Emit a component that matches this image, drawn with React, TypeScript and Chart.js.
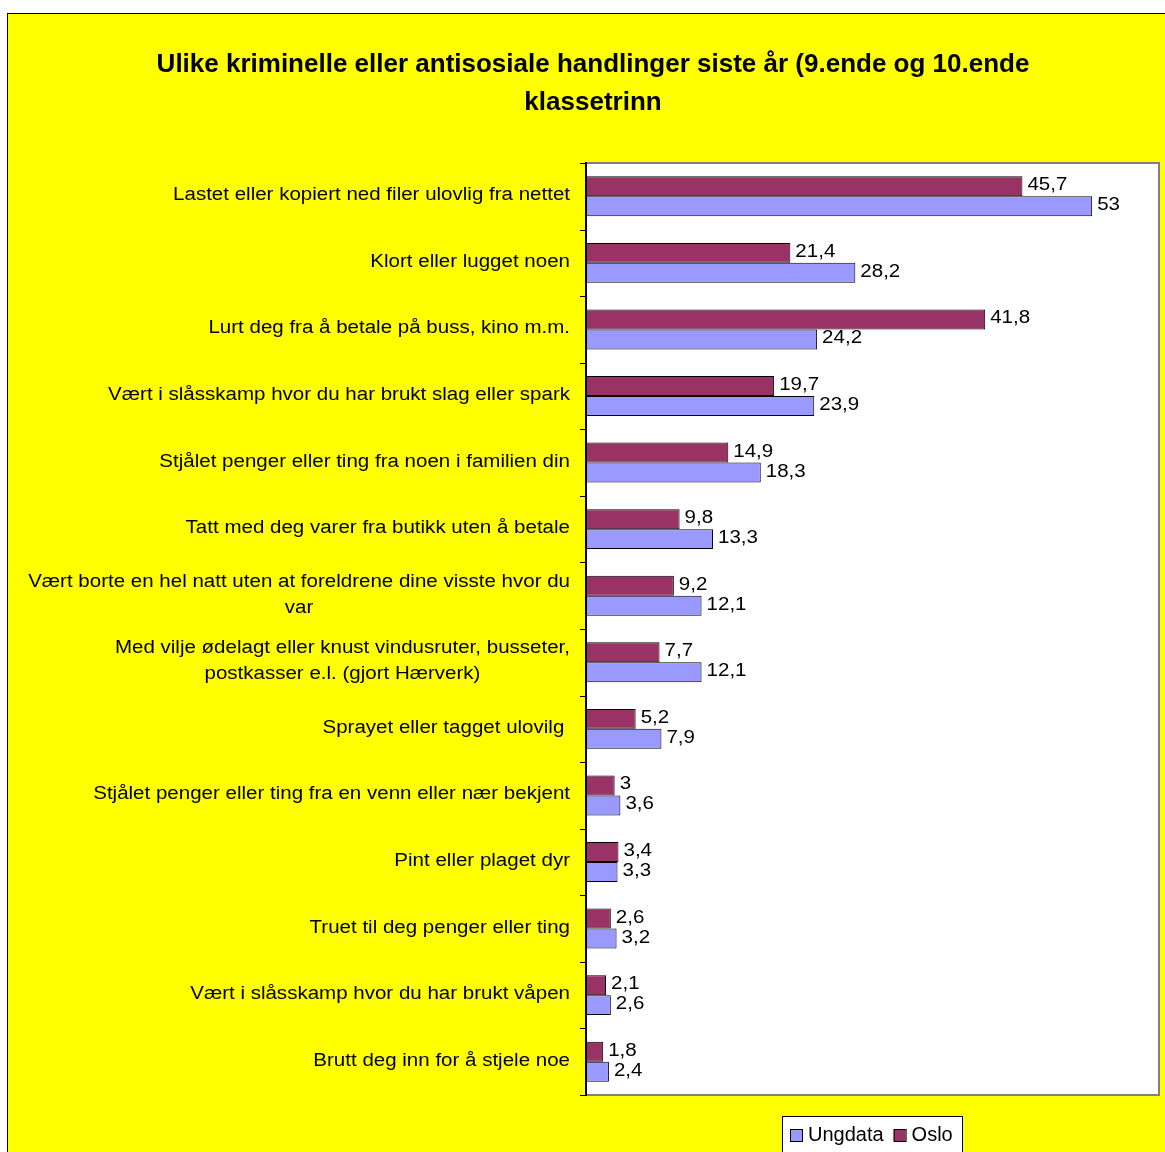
import React, { useEffect, useRef } from "react";
import { Chart, registerables } from "chart.js";

Chart.register(...registerables);

const titleLines: string[] = [
  "Ulike kriminelle eller antisosiale handlinger siste år (9.ende og 10.ende",
  "klassetrinn",
];

const categories: string[][] = [
  ["Lastet eller kopiert ned filer ulovlig fra nettet"],
  ["Klort eller lugget noen"],
  ["Lurt deg fra å betale på buss, kino m.m."],
  ["Vært i slåsskamp hvor du har brukt slag eller spark"],
  ["Stjålet penger eller ting fra noen i familien din"],
  ["Tatt med deg varer fra butikk uten å betale"],
  ["Vært borte en hel natt uten at foreldrene dine visste hvor du", "var"],
  ["Med vilje ødelagt eller knust vindusruter, busseter,", "postkasser e.l. (gjort Hærverk)"],
  ["Sprayet eller tagget ulovilg "],
  ["Stjålet penger eller ting fra en venn eller nær bekjent"],
  ["Pint eller plaget dyr"],
  ["Truet til deg penger eller ting"],
  ["Vært i slåsskamp hvor du har brukt våpen"],
  ["Brutt deg inn for å stjele noe"],
];

const osloValues: number[] = [45.7, 21.4, 41.8, 19.7, 14.9, 9.8, 9.2, 7.7, 5.2, 3, 3.4, 2.6, 2.1, 1.8];
const ungdataValues: number[] = [53, 28.2, 24.2, 23.9, 18.3, 13.3, 12.1, 12.1, 7.9, 3.6, 3.3, 3.2, 2.6, 2.4];

const seriesNames: string[] = ["Oslo", "Ungdata"];
const legendOrder: string[] = ["Ungdata", "Oslo"];
const xMin = 0;
const xMax = 60;

const OSLO_COLOR = "#993366";
const UNG_COLOR = "#9999FF";
const FONT = "'Liberation Sans', Arial, sans-serif";
const TEXT_SX = 1.14;

function drawText(ctx: CanvasRenderingContext2D, text: string, x: number, y: number, align: CanvasTextAlign, sx: number) {
  ctx.save();
  ctx.translate(x, y);
  ctx.scale(sx, 1);
  ctx.textAlign = align;
  ctx.fillText(text, 0, 0);
  ctx.restore();
}

const decor = {
  id: "decor",
  beforeDraw(chart: any) {
    const ctx: CanvasRenderingContext2D = chart.ctx;
    const w = chart.width;
    const h = chart.height;
    const ca = chart.chartArea;
    ctx.save();
    ctx.fillStyle = "#ffffff";
    ctx.fillRect(0, 0, w, h);
    ctx.fillStyle = "#FFFF00";
    ctx.fillRect(7, 13, w + 20, h + 20);
    ctx.strokeStyle = "#000000";
    ctx.lineWidth = 1;
    ctx.strokeRect(7.5, 13.5, w + 20, h + 20);
    ctx.fillStyle = "#ffffff";
    ctx.fillRect(ca.left, ca.top, ca.right - ca.left, ca.bottom - ca.top);
    // title
    ctx.fillStyle = "#000000";
    ctx.font = `bold 26px ${FONT}`;
    ctx.textBaseline = "alphabetic";
    titleLines.forEach((line, i) => {
      drawText(ctx, line, 593, 72 + i * 38, "center", 1);
    });
    ctx.restore();
  },
  afterDatasetsDraw(chart: any) {
    const ctx: CanvasRenderingContext2D = chart.ctx;
    const ca = chart.chartArea;
    const yScale = chart.scales.y;
    const n = categories.length;
    ctx.save();
    // plot border
    ctx.strokeStyle = "#808080";
    ctx.lineWidth = 2;
    ctx.strokeRect(ca.left, ca.top, ca.right - ca.left, ca.bottom - ca.top);
    // y axis line
    ctx.strokeStyle = "#000000";
    ctx.lineWidth = 2;
    ctx.beginPath();
    ctx.moveTo(ca.left, ca.top - 1);
    ctx.lineTo(ca.left, ca.bottom + 1);
    ctx.stroke();
    // ticks at category boundaries
    ctx.lineWidth = 1;
    for (let i = 0; i <= n; i++) {
      const y = Math.round(ca.top + (i * (ca.bottom - ca.top)) / n) + 0.5;
      ctx.beginPath();
      ctx.moveTo(ca.left - 6, y);
      ctx.lineTo(ca.left, y);
      ctx.stroke();
    }
    // category labels
    ctx.fillStyle = "#000000";
    ctx.font = `18px ${FONT}`;
    ctx.textBaseline = "middle";
    const labelRight = ca.left - 16;
    const lineH = 26;
    categories.forEach((lines, i) => {
      const cy = yScale.getPixelForValue(i);
      const maxW = Math.max(...lines.map((l) => ctx.measureText(l).width)) * TEXT_SX;
      const cx = labelRight - maxW / 2;
      lines.forEach((line, j) => {
        const y = cy + (j - (lines.length - 1) / 2) * lineH - 1;
        if (lines.length === 1) {
          drawText(ctx, line, labelRight, y, "right", TEXT_SX);
        } else {
          drawText(ctx, line, cx, y, "center", TEXT_SX);
        }
      });
    });
    // data labels
    chart.data.datasets.forEach((ds: any, di: number) => {
      const meta = chart.getDatasetMeta(di);
      meta.data.forEach((bar: any, i: number) => {
        const v = ds.data[i];
        const txt = String(v).replace(".", ",");
        drawText(ctx, txt, bar.x + 5, bar.y - 1, "left", TEXT_SX);
      });
    });
    // legend
    const lx = 782;
    const ly = 1116;
    ctx.fillStyle = "#ffffff";
    ctx.fillRect(lx, ly, 180, 60);
    ctx.strokeStyle = "#000000";
    ctx.lineWidth = 1;
    ctx.strokeRect(lx + 0.5, ly + 0.5, 180, 60);
    ctx.font = `20px ${FONT}`;
    ctx.textBaseline = "alphabetic";
    let x = lx + 8;
    legendOrder.forEach((name) => {
      const color = name === "Oslo" ? OSLO_COLOR : UNG_COLOR;
      ctx.fillStyle = color;
      ctx.fillRect(x, 1129, 12, 12);
      ctx.strokeStyle = "#000000";
      ctx.strokeRect(x + 0.5, 1129.5, 12, 12);
      ctx.fillStyle = "#000000";
      ctx.textAlign = "left";
      ctx.fillText(name, x + 18, 1141);
      x += 18 + ctx.measureText(name).width + 10;
    });
    ctx.restore();
  },
};

export default function App() {
  const ref = useRef<HTMLCanvasElement | null>(null);
  useEffect(() => {
    if (!ref.current) return;
    const chart = new Chart(ref.current, {
      type: "bar",
      data: {
        labels: categories.map((c) => c.join(" ")),
        datasets: [
          {
            label: seriesNames[0],
            data: osloValues,
            backgroundColor: OSLO_COLOR,
            borderColor: "#000000",
            borderWidth: 1,
            categoryPercentage: 0.6,
            barPercentage: 1,
          },
          {
            label: seriesNames[1],
            data: ungdataValues,
            backgroundColor: UNG_COLOR,
            borderColor: "#000000",
            borderWidth: 1,
            categoryPercentage: 0.6,
            barPercentage: 1,
          },
        ],
      },
      options: {
        indexAxis: "y",
        responsive: false,
        animation: false,
        layout: { padding: { left: 586, top: 163, right: 6, bottom: 57 } },
        scales: {
          x: { display: false, min: xMin, max: xMax },
          y: { display: false },
        },
        plugins: {
          legend: { display: false },
          title: { display: false },
          tooltip: { enabled: false },
        },
      } as any,
      plugins: [decor],
    });
    return () => chart.destroy();
  }, []);
  return (
    <div style={{ position: "absolute", left: 0, top: 0, width: 1165, height: 1152 }}>
      <canvas ref={ref} width={1165} height={1152} />
    </div>
  );
}
